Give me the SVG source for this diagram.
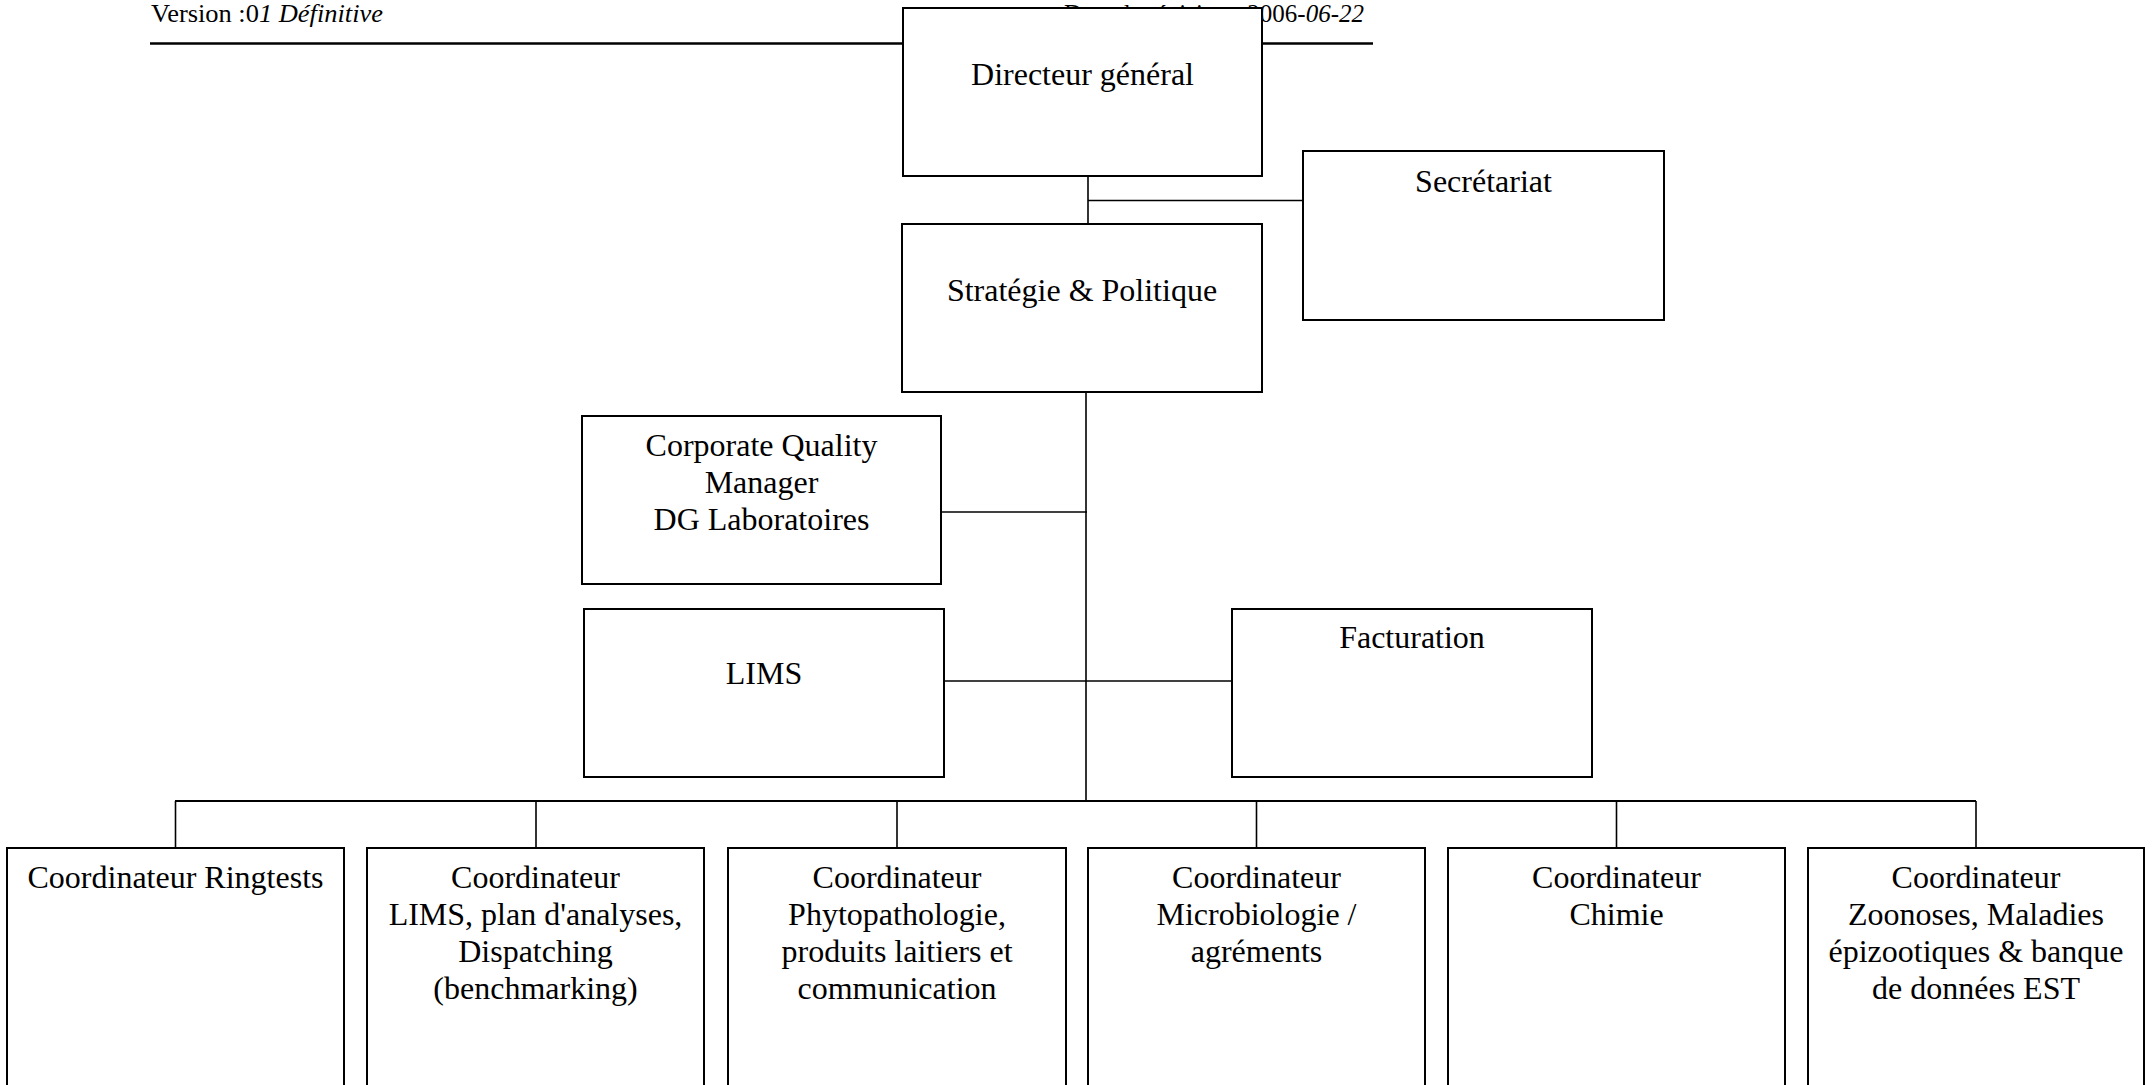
<svg xmlns="http://www.w3.org/2000/svg" width="2156" height="1085" viewBox="0 0 2156 1085">
  <style>
    .box { fill: #ffffff; stroke: #000000; stroke-width: 2; }
    .lbl { font-family: "Liberation Serif", "Times New Roman", serif; font-size: 32px; fill: #000000; text-anchor: middle; }
    .hdr { font-family: "Liberation Serif", "Times New Roman", serif; font-size: 25px; fill: #000000; }
    .it { font-style: italic; }
    .wire { stroke: #000000; stroke-width: 1.6; fill: none; }
  </style>
  <rect width="2156" height="1085" fill="#ffffff"/>

  <!-- page header -->
  <g id="header">
    <text class="hdr" x="151" y="22" textLength="232" lengthAdjust="spacingAndGlyphs">Version :0<tspan class="it">1 Définitive</tspan></text>
    <text class="hdr" x="1364" y="22" text-anchor="end">Date de révision : 2006-<tspan class="it">06-22</tspan></text>
    <line x1="150" y1="43.5" x2="1373" y2="43.5" stroke="#000" stroke-width="2.5"/>
  </g>

  <!-- connectors -->
  <g id="connectors">
    <line class="wire" x1="1088" y1="176" x2="1088" y2="224"/>
    <line class="wire" x1="1088" y1="200.5" x2="1303" y2="200.5"/>
    <line class="wire" x1="1086" y1="392" x2="1086" y2="801"/>
    <line class="wire" x1="941" y1="512" x2="1087" y2="512"/>
    <line class="wire" x1="944" y1="681" x2="1232" y2="681"/>
    <line x1="175" y1="801" x2="1976" y2="801" stroke="#000" stroke-width="2"/>
    <line class="wire" x1="175.5" y1="801" x2="175.5" y2="848"/>
    <line class="wire" x1="536" y1="801" x2="536" y2="848"/>
    <line class="wire" x1="897" y1="801" x2="897" y2="848"/>
    <line class="wire" x1="1256.5" y1="801" x2="1256.5" y2="848"/>
    <line class="wire" x1="1616.5" y1="801" x2="1616.5" y2="848"/>
    <line class="wire" x1="1976" y1="801" x2="1976" y2="848"/>
  </g>

  <g id="directeur">
    <rect class="box" x="903" y="8" width="359" height="168"/>
    <text class="lbl" x="1082.5" y="85">Directeur général</text>
  </g>

  <g id="secretariat">
    <rect class="box" x="1303" y="151" width="361" height="169"/>
    <text class="lbl" x="1483.5" y="192">Secrétariat</text>
  </g>

  <g id="strategie">
    <rect class="box" x="902" y="224" width="360" height="168"/>
    <text class="lbl" x="1082" y="301">Stratégie &amp; Politique</text>
  </g>

  <g id="quality">
    <rect class="box" x="582" y="416" width="359" height="168"/>
    <text class="lbl" x="761.5" y="456">Corporate Quality</text>
    <text class="lbl" x="761.5" y="493">Manager</text>
    <text class="lbl" x="761.5" y="530">DG Laboratoires</text>
  </g>

  <g id="lims">
    <rect class="box" x="584" y="609" width="360" height="168"/>
    <text class="lbl" x="764" y="684">LIMS</text>
  </g>

  <g id="facturation">
    <rect class="box" x="1232" y="609" width="360" height="168"/>
    <text class="lbl" x="1412" y="648">Facturation</text>
  </g>

  <g id="coord-ringtests">
    <rect class="box" x="7" y="848" width="337" height="260"/>
    <text class="lbl" x="175.5" y="888">Coordinateur Ringtests</text>
  </g>

  <g id="coord-lims">
    <rect class="box" x="367" y="848" width="337" height="260"/>
    <text class="lbl" x="535.5" y="888">Coordinateur</text>
    <text class="lbl" x="535.5" y="925">LIMS, plan d'analyses,</text>
    <text class="lbl" x="535.5" y="962">Dispatching</text>
    <text class="lbl" x="535.5" y="999">(benchmarking)</text>
  </g>

  <g id="coord-phyto">
    <rect class="box" x="728" y="848" width="338" height="260"/>
    <text class="lbl" x="897" y="888">Coordinateur</text>
    <text class="lbl" x="897" y="925">Phytopathologie,</text>
    <text class="lbl" x="897" y="962">produits laitiers et</text>
    <text class="lbl" x="897" y="999">communication</text>
  </g>

  <g id="coord-micro">
    <rect class="box" x="1088" y="848" width="337" height="260"/>
    <text class="lbl" x="1256.5" y="888">Coordinateur</text>
    <text class="lbl" x="1256.5" y="925">Microbiologie /</text>
    <text class="lbl" x="1256.5" y="962">agréments</text>
  </g>

  <g id="coord-chimie">
    <rect class="box" x="1448" y="848" width="337" height="260"/>
    <text class="lbl" x="1616.5" y="888">Coordinateur</text>
    <text class="lbl" x="1616.5" y="925">Chimie</text>
  </g>

  <g id="coord-zoonoses">
    <rect class="box" x="1808" y="848" width="336" height="260"/>
    <text class="lbl" x="1976" y="888">Coordinateur</text>
    <text class="lbl" x="1976" y="925">Zoonoses, Maladies</text>
    <text class="lbl" x="1976" y="962">épizootiques &amp; banque</text>
    <text class="lbl" x="1976" y="999">de données EST</text>
  </g>
</svg>
